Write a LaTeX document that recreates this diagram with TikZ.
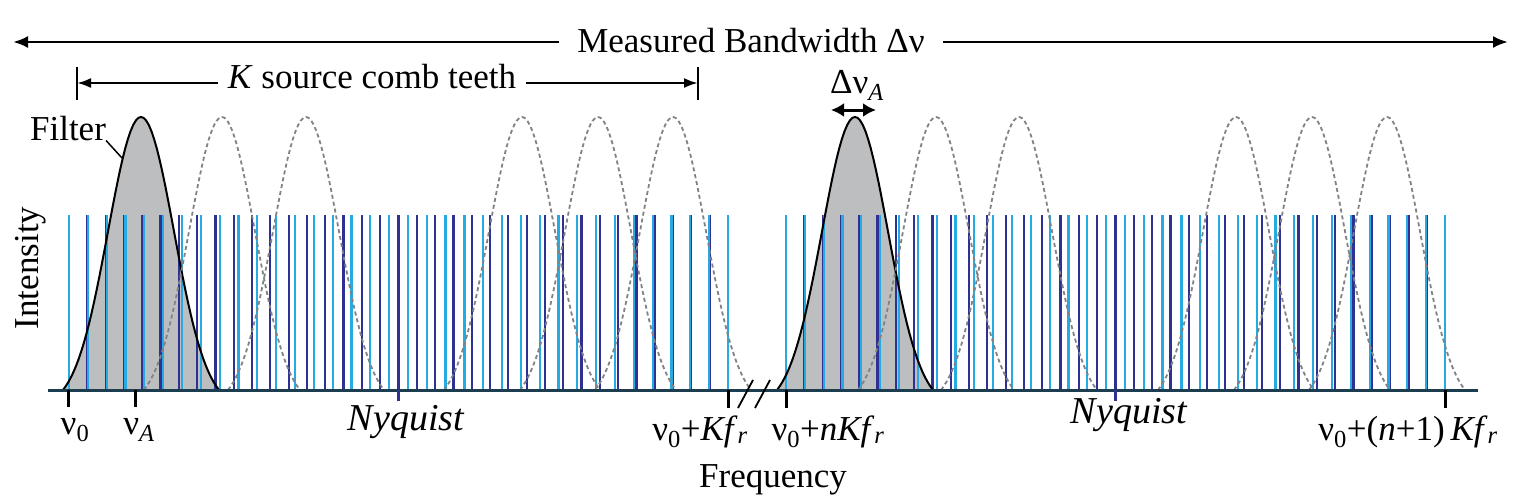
\documentclass[tikz,border=0pt]{standalone}
\usepackage{fontspec}
\setmainfont{Liberation Serif}
\usetikzlibrary{arrows.meta}
\definecolor{combdark}{HTML}{2E3192}
\definecolor{comblight}{HTML}{27AAE1}
\definecolor{axisline}{HTML}{1C3D4F}
\definecolor{filtergray}{HTML}{BCBEC0}
\definecolor{ghostgray}{HTML}{808285}
\newcommand{\nuzero}{ν\textsubscript{0}}
\newcommand{\kfr}{\textit{Kf}\textsubscript{\itshape r}}
% filter profile centred at #2 (pixel units)
\def\filtercurve[#1](#2){\draw[#1] plot[domain=-78:78,samples=61] ({#2+\x},{390-273*(exp(-(\x*\x)/2178)-0.0612)/0.9388});}
\def\filterfill(#1){\fill[filtergray] plot[domain=-78:78,samples=61] ({#1+\x},{390-273*(exp(-(\x*\x)/2178)-0.0612)/0.9388}) -- cycle;}

\begin{document}
\begin{tikzpicture}[x=1pt,y=-1pt,
  lbl/.style={inner sep=0pt,font=\fontsize{35}{42}\selectfont},
  nyqlbl/.style={inner sep=0pt,font=\fontsize{38}{44}\selectfont\itshape},
  combdk/.style={combdark,line width=2.2pt},
  comblt/.style={comblight,line width=2.2pt},
  axistick/.style={line width=3pt},
  ghostfilter/.style={ghostgray,line width=1.8pt,dash pattern=on 4pt off 3pt},
  realfilter/.style={black,line width=2pt},
  bigarrow/.style={line width=2.6pt,-{Latex[length=15pt,width=12pt]}},
  karrow/.style={line width=2.4pt,-{Latex[length=14pt,width=10pt]}},
  widtharrow/.style={line width=3pt,{Latex[length=13pt,width=14pt]}-{Latex[length=13pt,width=14pt]}},
]
\useasboundingbox (0,0) rectangle (1519,499);

%%%%% filters (fill) %%%%%
\filterfill(141)
\filterfill(855)

%%%%% two combs: 36 and 35 spacings over one K span %%%%%
\foreach \s in {0,717}{
  \foreach \k in {0,...,36}
    \draw[combdk] ({69+\s+\k*18.30556},390) -- ++(0,-175);
  \foreach \k in {0,...,35}
    \draw[comblt] ({69+\s+\k*18.82857},390) -- ++(0,-175);
}

%%%%% filter outlines %%%%%
\filtercurve[realfilter](141)
\filtercurve[realfilter](855)
\foreach \c in {222,306,522,598,673,936,1019,1236,1312,1387}{
  \filtercurve[ghostfilter](\c)
}

%%%%% axis %%%%%
\coordinate (axL) at (48,390);
\coordinate (axR) at (1478,390);
\draw[axisline,line width=3pt] (axL) -- (axR);
\draw[line width=1.8pt] (738,408) -- (753,380);
\draw[line width=1.8pt] (755,408) -- (770,380);

\draw[axistick] (68,390) -- (68,407);
\draw[axistick] (135,390) -- (135,407);
\draw[axistick,combdark] (398.5,390) -- (398.5,401);
\draw[axistick] (728,390) -- (728,408);
\draw[axistick] (786,390) -- (786,408);
\draw[axistick,combdark] (1115.5,390) -- (1115.5,401);
\draw[axistick] (1445,390) -- (1445,408);

\node[lbl,anchor=base] (nu0lbl) at (75,434) {\nuzero};
\node[lbl,anchor=base] (nuAlbl) at (139,434) {ν\textsubscript{\itshape A}};
\node[nyqlbl,anchor=base] (nyq1) at (406,430) {Nyquist};
\node[lbl,anchor=base] (kfrlbl) at (700,440) {\nuzero+\kfr};
\node[lbl,anchor=base] (nkfrlbl) at (828,440) {\nuzero+\textit{n}\kfr};
\node[nyqlbl,anchor=base] (nyq2) at (1129,423) {Nyquist};
\node[lbl,anchor=base] (n1kfrlbl) at (1408,440) {\nuzero+(\textit{n}+1)\,\kfr};
\node[lbl,anchor=base] (freq) at (773,487) {Frequency};
\node[lbl,rotate=90] (intens) at (31,268) {Intensity};

%%%%% filter labels %%%%%
\node[lbl,anchor=base] (filterlbl) at (68,140) {Filter};
\coordinate (filterpt) at (122,158);
\draw[line width=1.5pt] (filterlbl.south east) -- (filterpt);
\node[lbl,anchor=base] (dnulbl) at (857,93) {Δν\textsubscript{\itshape A}};
\coordinate (dnuL) at (831,110);
\coordinate (dnuR) at (876,110);
\draw[widtharrow] (dnuL) -- (dnuR);

%%%%% bandwidth arrows %%%%%
\node[lbl,anchor=base,fill=white,inner xsep=18pt] (bwlbl) at (751,52) {Measured Bandwidth Δν};
\coordinate (bwL) at (13,42);
\coordinate (bwR) at (1508,42);
\draw[bigarrow] (bwlbl.west |- bwL) -- (bwL);
\draw[bigarrow] (bwlbl.east |- bwR) -- (bwR);

\node[lbl,anchor=base,inner xsep=10pt] (klbl) at (372,88) {\textit{K} source comb teeth};
\coordinate (kL) at (77,83);
\coordinate (kR) at (698,83);
\draw[line width=1.5pt] (77,67) -- (77,100);
\draw[line width=1.5pt] (698,67) -- (698,100);
\draw[karrow] (klbl.west |- kL) -- (kL);
\draw[karrow] (klbl.east |- kR) -- (kR);

\end{tikzpicture}
\end{document}
